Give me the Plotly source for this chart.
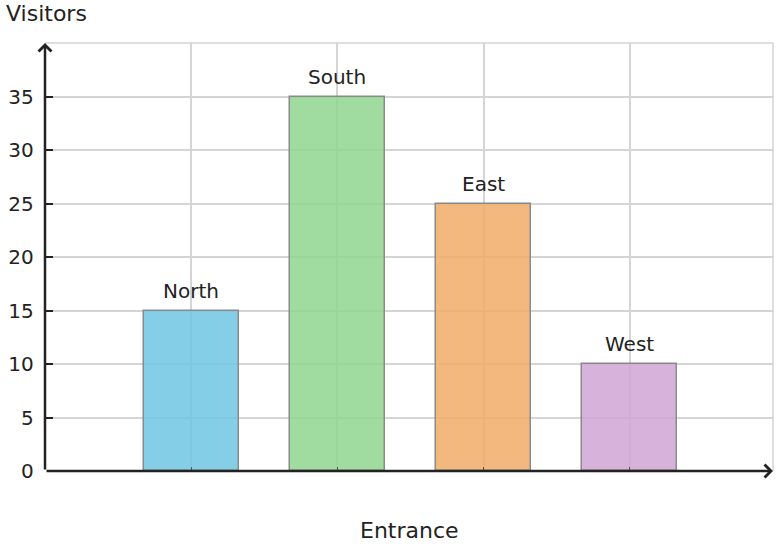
import plotly.graph_objects as go

categories = ["North", "South", "East", "West"]
visitors = [15, 35, 25, 10]
colors = ["rgba(112,198,228,0.85)", "rgba(143,214,143,0.85)", "rgba(241,172,103,0.85)", "rgba(208,164,212,0.85)"]
y_ticks = [0, 5, 10, 15, 20, 25, 30, 35]

FONT = "DejaVu Sans"
xs = list(range(len(categories)))
W, H = 777, 548
ML, MR, MT, MB = 45, 4, 43, 77
PW, PH = W - ML - MR, H - MT - MB

# invisible trailing pad so labels sit further from the axis
PAD = "<span style='fill:rgba(0,0,0,0);font-size:16px'>0</span>"
y_ticktext = [f"{v}{PAD}" for v in y_ticks]

fig = go.Figure()
fig.add_trace(go.Bar(
    x=xs, y=visitors, width=0.65,
    marker=dict(color=colors, line=dict(color="#8a8a8a", width=1.5)),
    showlegend=False, hoverinfo="x+y",
))

label_annotations = [
    dict(xref="x", yref="y", x=xv, y=v, yshift=20, xanchor="center", yanchor="middle",
         text=name, showarrow=False, font=dict(family=FONT, size=20, color="#222"))
    for xv, v, name in zip(xs, visitors, categories)
]

fig.update_layout(
    width=W, height=H,
    margin=dict(l=ML, r=MR, t=MT, b=MB, autoexpand=False),
    paper_bgcolor="white", plot_bgcolor="white",
    font=dict(family=FONT, size=20, color="#222"),
    bargap=0,
    xaxis=dict(
        range=[-1.0, 3.98], tickvals=xs, ticktext=["", "", "", ""],
        showgrid=True, gridcolor="#d5d5d5", gridwidth=1.5,
        showline=False, zeroline=False, automargin=False,
        ticks="inside", ticklen=4, tickcolor="#555",
    ),
    yaxis=dict(
        range=[0, 40], tickvals=y_ticks, ticktext=y_ticktext,
        showgrid=True, gridcolor="#d5d5d5", gridwidth=1.5,
        showline=False, zeroline=False, automargin=False,
        ticks="inside", ticklen=8, tickwidth=2, tickcolor="#222",
        tickfont=dict(family=FONT, size=20, color="#222"),
    ),
    shapes=[
        dict(type="line", xref="paper", yref="paper", x0=0, x1=1, y0=1, y1=1,
             line=dict(color="#d5d5d5", width=1.5), layer="below"),
        dict(type="line", xref="paper", yref="paper", x0=1, x1=1, y0=0, y1=1,
             line=dict(color="#d5d5d5", width=1.5), layer="below"),
    ],
    annotations=label_annotations + [
        dict(xref="paper", yref="paper", x=0, y=1, ax=0, ay=PH,
             showarrow=True, arrowhead=4, arrowsize=1, arrowwidth=2.5, arrowcolor="#222", text=""),
        dict(xref="paper", yref="paper", x=1, y=0, ax=-PW, ay=0,
             showarrow=True, arrowhead=4, arrowsize=1, arrowwidth=2.5, arrowcolor="#222", text=""),
        dict(xref="paper", yref="paper", x=-(ML - 4) / PW, y=1 + (MT - 13) / PH,
             xanchor="left", yanchor="middle",
             text="Visitors", showarrow=False, font=dict(family=FONT, size=22, color="#222")),
        dict(xref="paper", yref="paper", x=0.5, y=-(530 - (H - MB)) / PH,
             xanchor="center", yanchor="middle",
             text="Entrance", showarrow=False, font=dict(family=FONT, size=22, color="#222")),
    ],
)

fig.write_html(
    "out.html",
    config={"displayModeBar": False},
    post_script="document.body.style.margin='0';document.body.style.overflow='hidden';",
)
